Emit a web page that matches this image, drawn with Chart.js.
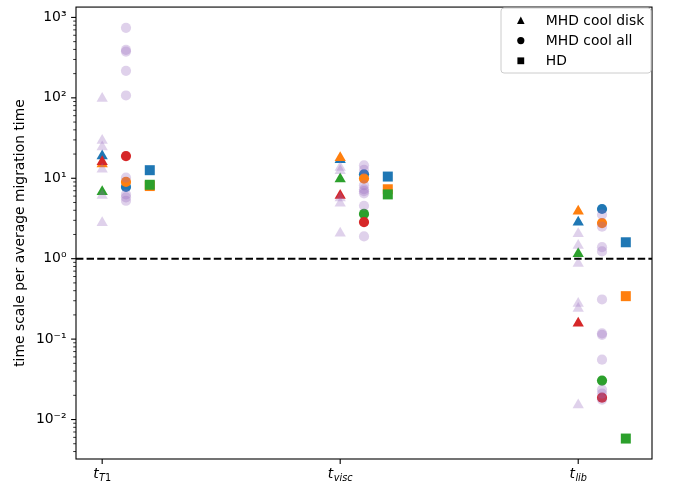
<!DOCTYPE html>
<html><head><meta charset="utf-8">
<script src="https://cdn.jsdelivr.net/npm/chart.js@4/dist/chart.umd.min.js"></script>
<style>html,body{margin:0;padding:0;background:#fff}canvas{display:block}</style>
</head><body>
<canvas id="c" width="676" height="488"></canvas>
<script>
// ---- categories and labels ----
const categories = ['T1', 'visc', 'lib'];          // x tick labels: t_{T1}, t_{visc}, t_{lib}
const legendLabels = ['MHD cool disk', 'MHD cool all', 'HD'];
const yTickDecades = [0.01, 0.1, 1, 10, 100, 1000];
const yTickLabels = ['10⁻²', '10⁻¹', '10⁰', '10¹', '10²', '10³'];
const yTitle = 'time scale per average migration time';
const refLineValue = 1;

// ---- MHD cool disk (triangles), per category [T1, visc, lib] ----
const diskBlue   = [18.9, 17.0, 2.83];
const diskOrange = [15.0, 18.0, 3.9];
const diskGreen  = [6.8, 9.8, 1.15];
const diskRed    = [16.0, 6.1, 0.157];
const diskOthers = [
  [98, 29.5, 24.5, 12.9, 6.1, 2.8],
  [13.6, 12.4, 5.7, 4.9, 2.07],
  [2.04, 1.46, 0.87, 0.278, 0.24, 0.0152]
];

// ---- MHD cool all (circles) ----
const allBlue   = [7.8, 11.2, 4.15];
const allOrange = [9.0, 9.9, 2.77];
const allGreen  = [null, 3.6, 0.0305];
const allRed    = [18.9, 2.85, 0.0187];
const allOthers = [
  [743, 394, 376, 217, 107, 10.2, 6.3, 5.8, 5.25],
  [14.5, 12.7, 8.2, 7.3, 6.5, 6.9, 4.55, 1.89],
  [3.53, 2.5, 1.39, 1.23, 0.311, 0.118, 0.113, 0.0555, 0.0236, 0.021, 0.0177]
];

// ---- HD (squares) ----
const hdBlue   = [12.6, 10.5, 1.6];
const hdOrange = [8.0, 7.3, 0.342];
const hdGreen  = [8.3, 6.3, 0.0058];

// ---- layout constants ----
const xMin = -0.11, xMax = 2.31;
const yMin = 0.00323, yMax = 1345;
const offsets = { disk: 0, all: 0.1, hd: 0.2 };

const C = { blue: '#1f77b4', orange: '#ff7f0e', green: '#2ca02c', red: '#d62728', lav: 'rgba(148,103,189,0.3)' };
const FONT = 'DejaVu Sans';

function pts(vals, off) {
  const out = [];
  vals.forEach((v, i) => { if (v != null) out.push({ x: i + off, y: v }); });
  return out;
}
function ptsMulti(lists, off) {
  const out = [];
  lists.forEach((l, i) => l.forEach(v => out.push({ x: i + off, y: v })));
  return out;
}
function ds(data, color, style, r) {
  return { type: 'scatter', data, backgroundColor: color, borderColor: color, borderWidth: 0,
           pointStyle: style, pointRadius: r, pointHoverRadius: r };
}
const R = { triangle: 6.5, circle: 5.1, rect: 7.07 };

// minor+major y ticks
const yTickValues = [];
for (let e = -3; e <= 3; e++) for (let m = 1; m <= 9; m++) {
  const v = +(m * Math.pow(10, e)).toPrecision(6);
  if (v >= yMin && v <= yMax) yTickValues.push(v);
}
function isDecade(v) { const l = Math.log10(v); return Math.abs(l - Math.round(l)) < 1e-9; }
function yLabel(v) {
  const i = yTickDecades.findIndex(d => Math.abs(d - v) / d < 1e-9);
  return i >= 0 ? yTickLabels[i] : '';
}

const datasets = [
  { type: 'line', data: [{ x: xMin, y: refLineValue }, { x: xMax, y: refLineValue }], borderColor: '#000',
    borderWidth: 2, borderDash: [7.4, 3.2], pointRadius: 0, fill: false },
  ds(ptsMulti(allOthers, offsets.all), C.lav, 'circle', R.circle),
  ds(ptsMulti(diskOthers, offsets.disk), C.lav, 'triangle', R.triangle),
  ds(pts(diskRed, offsets.disk), C.red, 'triangle', R.triangle),
  ds(pts(allRed, offsets.all), C.red, 'circle', R.circle),
  ds(pts(diskGreen, offsets.disk), C.green, 'triangle', R.triangle),
  ds(pts(allGreen, offsets.all), C.green, 'circle', R.circle),
  ds(pts(hdGreen, offsets.hd), C.green, 'rect', R.rect),
  ds(pts(diskOrange, offsets.disk), C.orange, 'triangle', R.triangle),
  ds(pts(allOrange, offsets.all), C.orange, 'circle', R.circle),
  ds(pts(hdOrange, offsets.hd), C.orange, 'rect', R.rect),
  ds(pts(diskBlue, offsets.disk), C.blue, 'triangle', R.triangle),
  ds(pts(allBlue, offsets.all), C.blue, 'circle', R.circle),
  ds(pts(hdBlue, offsets.hd), C.blue, 'rect', R.rect)
];

const deco = {
  id: 'deco',
  afterDatasetsDraw(chart) {
    const { ctx, chartArea: a, scales: { x, y } } = chart;
    ctx.save();
    // y tick marks
    ctx.strokeStyle = '#000';
    y.ticks.forEach(t => {
      const py = y.getPixelForValue(t.value);
      const major = isDecade(t.value);
      ctx.lineWidth = major ? 1.1 : 0.8;
      ctx.beginPath();
      ctx.moveTo(a.left, py);
      ctx.lineTo(a.left - (major ? 4.9 : 2.8), py);
      ctx.stroke();
    });
    // x tick marks and labels
    categories.forEach((sub, i) => {
      const px = x.getPixelForValue(i);
      ctx.lineWidth = 1.1;
      ctx.beginPath();
      ctx.moveTo(px, a.bottom);
      ctx.lineTo(px, a.bottom + 4.9);
      ctx.stroke();
      ctx.fillStyle = '#000';
      ctx.textBaseline = 'alphabetic';
      ctx.textAlign = 'left';
      const mainFont = 'italic 13.9px "' + FONT + '"';
      const subIt = 'italic 9.7px "' + FONT + '"';
      const subRm = '9.7px "' + FONT + '"';
      ctx.font = mainFont;
      const wt = ctx.measureText('t').width;
      let ws = 0;
      for (const ch of sub) { ctx.font = /[0-9]/.test(ch) ? subRm : subIt; ws += ctx.measureText(ch).width; }
      let cx = px - (wt + ws + 0.5) / 2;
      ctx.font = mainFont;
      ctx.fillText('t', cx, 478);
      cx += wt + 0.5;
      for (const ch of sub) {
        ctx.font = /[0-9]/.test(ch) ? subRm : subIt;
        ctx.fillText(ch, cx, 481);
        cx += ctx.measureText(ch).width;
      }
    });
    // frame
    ctx.lineWidth = 1.1;
    ctx.strokeStyle = '#000';
    ctx.strokeRect(a.left, a.top, a.right - a.left, a.bottom - a.top);

    // legend
    const L = 501, T = 8, W = 150, H = 65, rr = 3;
    ctx.beginPath();
    ctx.moveTo(L + rr, T); ctx.lineTo(L + W - rr, T); ctx.arcTo(L + W, T, L + W, T + rr, rr);
    ctx.lineTo(L + W, T + H - rr); ctx.arcTo(L + W, T + H, L + W - rr, T + H, rr);
    ctx.lineTo(L + rr, T + H); ctx.arcTo(L, T + H, L, T + H - rr, rr);
    ctx.lineTo(L, T + rr); ctx.arcTo(L, T, L + rr, T, rr); ctx.closePath();
    ctx.fillStyle = 'rgba(255,255,255,0.8)';
    ctx.fill();
    ctx.strokeStyle = '#cccccc'; ctx.lineWidth = 1;
    ctx.stroke();
    const rows = [20.4, 40.6, 60.8];
    const mx = 520.8;
    ctx.fillStyle = '#000';
    legendLabels.forEach((lab, i) => {
      const cy = rows[i];
      ctx.beginPath();
      if (i === 0) { ctx.moveTo(mx, cy - 3.8); ctx.lineTo(mx + 3.8, cy + 3.6); ctx.lineTo(mx - 3.8, cy + 3.6); ctx.closePath(); }
      else if (i === 1) { ctx.arc(mx, cy, 3.6, 0, Math.PI * 2); }
      else { ctx.rect(mx - 3.4, cy - 3.4, 6.8, 6.8); }
      ctx.fill();
      ctx.font = '13.9px "' + FONT + '"';
      ctx.textAlign = 'left';
      ctx.textBaseline = 'middle';
      ctx.fillText(lab, 545.8, cy + 0.5);
    });
    ctx.restore();
  }
};

new Chart(document.getElementById('c'), {
  type: 'scatter',
  data: { datasets },
  options: {
    responsive: false, animation: false, events: [],
    layout: { padding: { left: 0, top: 5, right: 24, bottom: 0 } },
    plugins: { legend: { display: false }, tooltip: { enabled: false } },
    scales: {
      x: {
        type: 'linear', min: xMin, max: xMax,
        afterFit(s) { s.height = 29; s.paddingLeft = 0; s.paddingRight = 0; },
        grid: { display: false, drawTicks: false }, border: { display: false },
        ticks: { display: false }
      },
      y: {
        type: 'logarithmic', min: yMin, max: yMax,
        afterFit(s) { s.width = 76; s.paddingTop = 0; s.paddingBottom = 0; },
        afterBuildTicks(s) { s.ticks = yTickValues.map(v => ({ value: v, major: isDecade(v) })); },
        grid: { display: false, drawTicks: false }, border: { display: false },
        ticks: { autoSkip: false, padding: 9.5, color: '#000', font: { family: FONT, size: 13.9 },
                 callback: (v) => yLabel(v) },
        title: { display: true, text: yTitle, color: '#000', font: { family: FONT, size: 13.9 },
                 padding: { top: 11.7, bottom: 0 } }
      }
    }
  },
  plugins: [deco]
});
</script>
</body></html>
